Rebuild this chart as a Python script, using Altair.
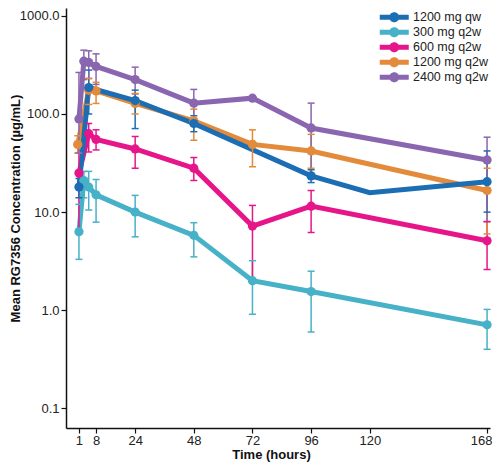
import altair as alt
import pandas as pd

series = ["1200 mg qw", "300 mg q2w", "600 mg q2w", "1200 mg q2w", "2400 mg q2w"]
colors = ["#1b6db4", "#47b1c7", "#e6168a", "#e38a3b", "#8a66b0"]

# 1200 mg qw
qw1200_t = [1, 5, 24, 48, 96, 120, 168]
qw1200_mean = [18, 186, 137, 80, 23.4, 15.8, 20.4]
qw1200_lo = [14, 100, 71, 66, 20, None, 10]
qw1200_hi = [22, 280, 175, 96, 27, None, 42]
qw1200_marker = [1, 1, 1, 1, 1, 0, 1]

# 300 mg q2w
q2w300_t = [1, 3, 5, 8, 24, 48, 72, 96, 168]
q2w300_mean = [6.3, 21, 18, 15, 10, 5.8, 2.0, 1.55, 0.71]
q2w300_lo = [3.3, 14, 10.5, 7.9, 5.6, 3.5, 0.91, 0.6, 0.4]
q2w300_hi = [12, 26, 26, 21.5, 14.8, 7.8, 3.2, 2.5, 1.02]

# 600 mg q2w
q2w600_t = [1, 5, 8, 24, 48, 72, 96, 168]
q2w600_mean = [25, 63, 55, 44, 28, 7.2, 11.5, 5.1]
q2w600_lo = [6.5, 41, 43, 28, 21, 2.0, 6.2, 2.6]
q2w600_hi = [48, 80, 69, 59, 36, 11.7, 16.6, 8]

# 1200 mg q2w
q2w1200_t = [0.5, 5, 8, 24, 48, 72, 96, 168]
q2w1200_mean = [49, 175, 172, 128, 85, 49, 42, 16.6]
q2w1200_lo = [40, 125, 128, 100, 54, 29, 28, 6]
q2w1200_hi = [60, 230, 210, 162, 112, 69, 62, 28]

# 2400 mg q2w
q2w2400_t = [1, 3, 5, 8, 24, 48, 72, 96, 168]
q2w2400_mean = [89, 345, 335, 305, 224, 129, 145, 72, 34]
q2w2400_lo = [40, 224, 230, 200, 160, 90, None, 24, 8]
q2w2400_hi = [265, 447, 440, 410, 300, 178, None, 129, 58]

x_ticks = [1, 8, 24, 48, 72, 96, 120, 168]
y_ticks = [0.1, 1, 10, 100, 1000]

# drawing order (bottom to top): teal, magenta, orange, blue, purple
groups = [
    (series[1], q2w300_t, q2w300_mean, q2w300_lo, q2w300_hi, None),
    (series[2], q2w600_t, q2w600_mean, q2w600_lo, q2w600_hi, None),
    (series[3], q2w1200_t, q2w1200_mean, q2w1200_lo, q2w1200_hi, None),
    (series[0], qw1200_t, qw1200_mean, qw1200_lo, qw1200_hi, qw1200_marker),
    (series[4], q2w2400_t, q2w2400_mean, q2w2400_lo, q2w2400_hi, None),
]
rows = []
for gi, (name, ts, ms, los, his, mk) in enumerate(groups):
    for i in range(len(ts)):
        rows.append({
            "series": name, "order": gi, "t": ts[i], "mean": ms[i],
            "lo": los[i], "hi": his[i],
            "marker": 1 if mk is None else mk[i],
        })
df = pd.DataFrame(rows)

FONT = "Liberation Sans"
xscale = alt.Scale(domain=[-4.3, 169.2], nice=False, zero=False)
yscale = alt.Scale(type="log", domain=[10 ** -1.2, 10 ** 3.08], nice=False)
cscale = alt.Scale(domain=series, range=colors)

xaxis = alt.Axis(values=x_ticks, title="Time (hours)", grid=False, labelFontSize=13,
                 labelFont=FONT, labelColor="#222", tickSize=5, tickColor="#111",
                 domainColor="#111", domainWidth=1.5, tickWidth=1.2, labelPadding=1,
                 titleFont=FONT, titleFontSize=13, titleFontWeight="bold", titleColor="#111",
                 titleX=205, titleY=26, titleBaseline="middle",
                 labelFlush=10, labelFlushOffset=5)
yaxis = alt.Axis(values=y_ticks, format=".1f", title="Mean RG7356 Concentration (µg/mL)",
                 grid=False, labelFontSize=13, labelFont=FONT, labelColor="#222",
                 tickSize=5, tickColor="#111", domainColor="#111", domainWidth=1.5,
                 tickWidth=1.2, labelPadding=2, titleFont=FONT, titleFontSize=13,
                 titleFontWeight="bold", titleColor="#111", titleX=-51, titleY=200,
                 titleBaseline="middle", titleAngle=-90)

base = alt.Chart(df)
X = alt.X("t:Q", scale=xscale, axis=xaxis)

lines = base.mark_line(strokeWidth=5).encode(
    x=X,
    y=alt.Y("mean:Q", scale=yscale, axis=yaxis),
    color=alt.Color("series:N", scale=cscale, legend=None),
    detail="series:N",
    order="t:Q",
)

bars_df = base.transform_filter("isValid(datum.lo)")
rules = bars_df.mark_rule(strokeWidth=1.5).encode(
    x=X, y=alt.Y("lo:Q", scale=yscale), y2="hi:Q",
    color=alt.Color("series:N", scale=cscale, legend=None),
)
cap_lo = bars_df.mark_point(shape="M-1,0L1,0", size=49, strokeWidth=1.5, filled=False, opacity=1).encode(
    x=X, y=alt.Y("lo:Q", scale=yscale),
    color=alt.Color("series:N", scale=cscale, legend=None),
)
cap_hi = bars_df.mark_point(shape="M-1,0L1,0", size=49, strokeWidth=1.5, filled=False, opacity=1).encode(
    x=X, y=alt.Y("hi:Q", scale=yscale),
    color=alt.Color("series:N", scale=cscale, legend=None),
)

legend_path = ("M-2.9,-0.5L2.9,-0.5L2.9,0.5L-2.9,0.5Z "
               "M-1,0A1,1 0 1,1 1,0A1,1 0 1,1 -1,0Z")
points = base.transform_filter("datum.marker == 1").mark_circle(size=85, opacity=1).encode(
    x=X, y=alt.Y("mean:Q", scale=yscale),
    color=alt.Color("series:N", scale=cscale, legend=alt.Legend(
        title=None, orient="none", legendX=322, legendY=3,
        symbolType=legend_path, symbolSize=100, symbolStrokeWidth=0,
        symbolOpacity=1, labelFontSize=12.5, labelFont=FONT, labelColor="#222",
        labelOffset=12.5, rowPadding=2, padding=0)),
)

chart = alt.layer(lines, rules, cap_lo, cap_hi, points).resolve_legend(
    color="independent"
).properties(
    width=424, height=420,
    autosize=alt.AutoSizeParams(type="none"),
    padding={"left": 58, "top": 0, "right": 2, "bottom": 36},
).configure_view(stroke=None)

chart.save("out.html", embed_options={"renderer": "svg", "actions": False})
